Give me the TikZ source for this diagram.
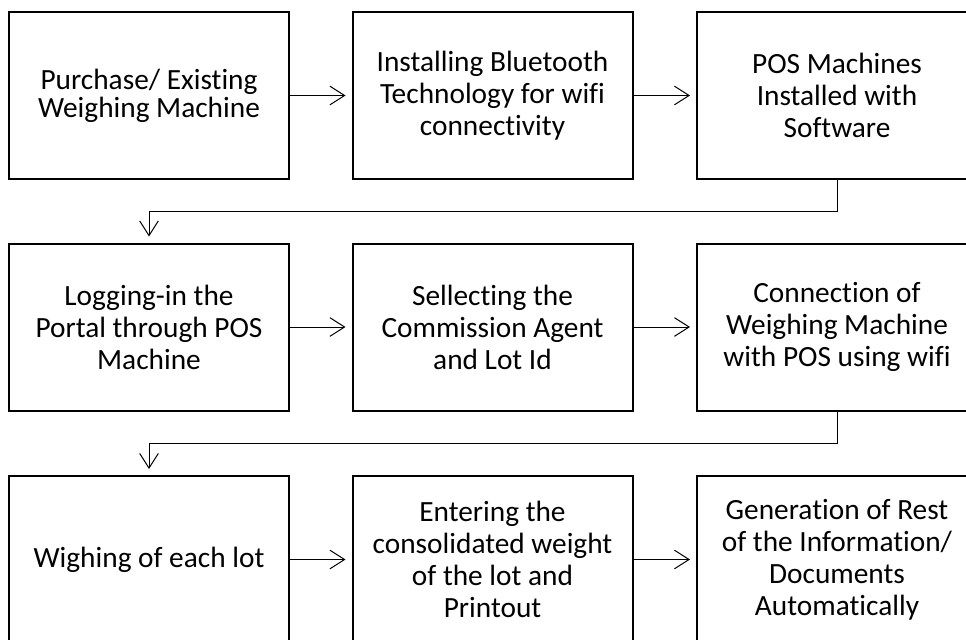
\documentclass[tikz,border=0pt]{standalone}
\usepackage{fontspec}
\setmainfont{Carlito}[Ligatures=NoCommon]
\usetikzlibrary{arrows.meta,calc}

\begin{document}
\begin{tikzpicture}[x=0.75pt, y=-0.75pt,
    stage/.style={draw, line width=1.5pt, minimum width=210pt, minimum height=125.25pt,
      inner sep=0pt, align=center, font=\fontsize{22}{24}\selectfont},
    flow/.style={-{Straight Barb[length=11pt,width=14pt]}, line width=0.75pt, shorten >=4.5pt}]
  \useasboundingbox (0,0) rectangle (966,639);
  \clip (0,0) rectangle (966,639);

  %% Row 1: machine set-up
  \node[stage, font=\fontsize{22}{21}\selectfont] (buy) at (149,95.5) {Purchase/ Existing\\Weighing Machine};
  \node[stage] (bt)  at (492.5,95.5) {Installing Bluetooth\\Technology for wifi\\connectivity};
  \node[stage] (pos) at (837,95.5)   {POS Machines\\Installed with\\Software};

  %% Row 2: portal and connection
  \node[stage] (login) at (149,327)   {Logging-in the\\Portal through POS\\Machine};
  \node[stage] (agent) at (492.5,327) {Sellecting the\\Commission Agent\\and Lot Id};
  \node[stage] (link)  at (837,327)   {Connection of\\Weighing Machine\\with POS using wifi};

  %% Row 3: weighing and documents
  \node[stage] (weigh) at (149,559.5)   {Wighing of each lot};
  \node[stage] (entry) at (492.5,559.5) {Entering the\\consolidated weight\\of the lot and\\Printout};
  \node[stage] (docs)  at (837,559.5)   {Generation of Rest\\of the Information/\\Documents\\Automatically};

  %% Flow within rows
  \draw[flow] (buy) -- (bt);
  \draw[flow] (bt) -- (pos);
  \draw[flow] (login) -- (agent);
  \draw[flow] (agent) -- (link);
  \draw[flow] (weigh) -- (entry);
  \draw[flow] (entry) -- (docs);

  %% Wrap to next row
  \draw[flow] (pos.south) |- ($(pos.south)!.5!(link.north)$) -| (login.north);
  \draw[flow] (link.south) |- ($(link.south)!.5!(docs.north)$) -| (weigh.north);
\end{tikzpicture}
\end{document}
